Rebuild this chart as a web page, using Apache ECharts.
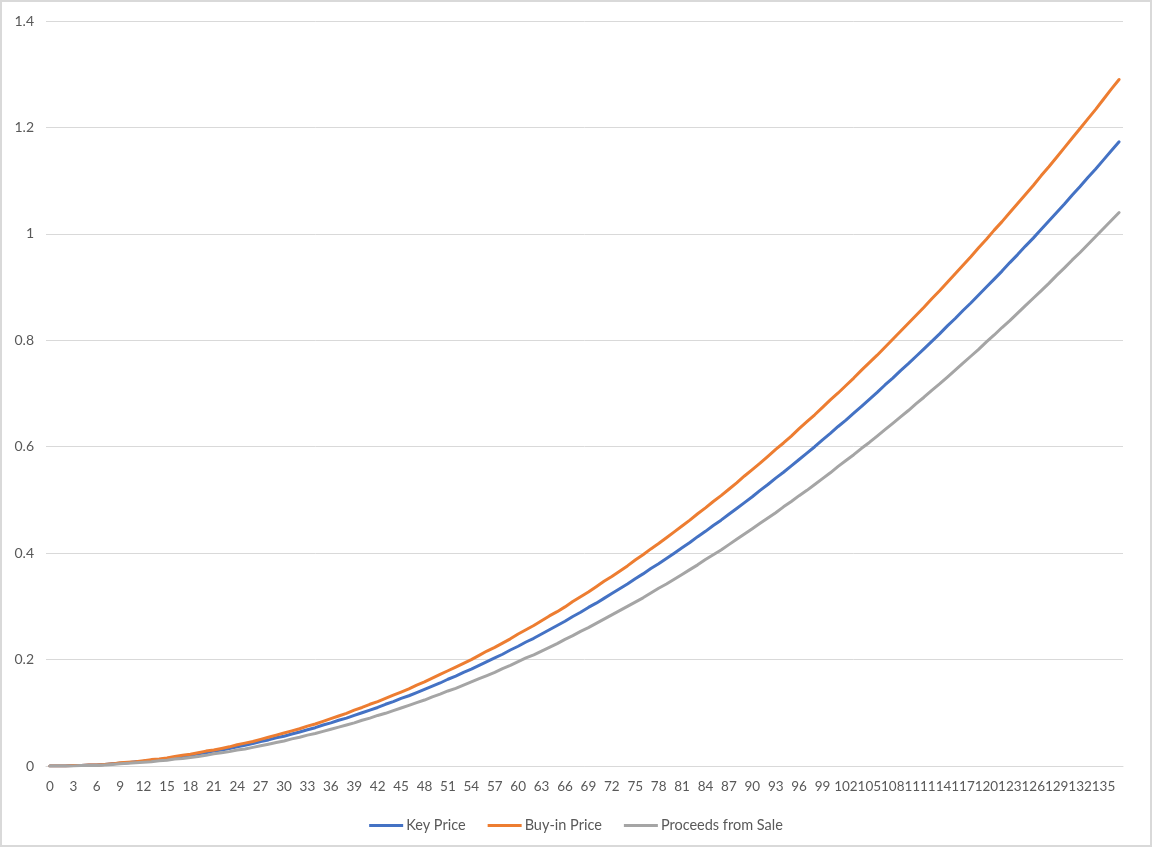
<!DOCTYPE html>
<html>
<head>
<meta charset="utf-8">
<script src="https://cdn.jsdelivr.net/npm/echarts@6/dist/echarts.min.js"></script>
<style>
  html, body { margin: 0; padding: 0; background: #fff; }
  #chart { position: absolute; left: 0; top: 0; width: 1152px; height: 847px; box-sizing: border-box; border: 2px solid #d9d9d9; }
</style>
</head>
<body>
<div id="chart"></div>
<script>
const categories = Array.from({length: 138}, (_, i) => String(i));

const keyPrice = [
0,0,0,0.001,0.001,0.002,0.002,0.003,0.004,0.005,0.006,0.008,0.009,0.011,0.012,0.014,0.016,0.018,0.020,0.023,
0.025,0.028,0.030,0.033,0.036,0.039,0.042,0.046,0.049,0.053,0.056,0.060,0.064,0.068,0.072,0.077,0.081,0.086,0.090,0.095,
0.100,0.105,0.110,0.116,0.121,0.127,0.132,0.138,0.144,0.150,0.156,0.163,0.169,0.176,0.182,0.189,0.196,0.203,0.210,0.218,
0.225,0.233,0.240,0.248,0.256,0.264,0.272,0.281,0.289,0.298,0.306,0.315,0.324,0.333,0.342,0.352,0.361,0.371,0.380,0.390,
0.400,0.410,0.420,0.431,0.441,0.452,0.462,0.473,0.484,0.495,0.506,0.518,0.529,0.541,0.552,0.564,0.576,0.588,0.600,0.613,
0.625,0.638,0.650,0.663,0.676,0.689,0.702,0.716,0.729,0.743,0.756,0.770,0.784,0.798,0.812,0.827,0.841,0.856,0.870,0.885,
0.900,0.915,0.930,0.946,0.961,0.977,0.992,1.008,1.024,1.040,1.056,1.073,1.089,1.106,1.122,1.139,1.156,1.173
];

const buyInPrice = [
0,0,0,0.001,0.001,0.002,0.002,0.003,0.004,0.006,0.007,0.008,0.010,0.012,0.013,0.015,0.018,0.020,0.022,0.025,
0.028,0.030,0.033,0.036,0.040,0.043,0.046,0.050,0.054,0.058,0.062,0.066,0.070,0.075,0.079,0.084,0.089,0.094,0.099,0.105,
0.110,0.116,0.121,0.127,0.133,0.139,0.145,0.152,0.158,0.165,0.172,0.179,0.186,0.193,0.200,0.208,0.216,0.223,0.231,0.239,
0.248,0.256,0.264,0.273,0.282,0.290,0.299,0.309,0.318,0.327,0.337,0.347,0.356,0.366,0.376,0.387,0.397,0.408,0.418,0.429,
0.440,0.451,0.462,0.474,0.485,0.497,0.508,0.520,0.532,0.545,0.557,0.569,0.582,0.595,0.607,0.620,0.634,0.647,0.660,0.674,
0.688,0.701,0.715,0.729,0.744,0.758,0.772,0.787,0.802,0.817,0.832,0.847,0.862,0.878,0.893,0.909,0.925,0.941,0.957,0.974,
0.990,1.007,1.023,1.040,1.057,1.074,1.091,1.109,1.126,1.144,1.162,1.180,1.198,1.216,1.234,1.253,1.272,1.290
];

const proceedsFromSale = [
0,0,0,0,0.001,0.001,0.001,0.002,0.003,0.004,0.005,0.006,0.007,0.008,0.010,0.011,0.013,0.014,0.016,0.018,
0.020,0.023,0.025,0.027,0.030,0.032,0.035,0.038,0.041,0.044,0.047,0.051,0.054,0.058,0.061,0.065,0.069,0.073,0.077,0.081,
0.086,0.090,0.095,0.099,0.104,0.109,0.114,0.119,0.124,0.130,0.135,0.141,0.146,0.152,0.158,0.164,0.170,0.176,0.183,0.189,
0.196,0.203,0.209,0.216,0.223,0.230,0.238,0.245,0.253,0.260,0.268,0.276,0.284,0.292,0.300,0.308,0.316,0.325,0.334,0.342,
0.351,0.360,0.369,0.378,0.388,0.397,0.406,0.416,0.426,0.436,0.446,0.456,0.466,0.476,0.487,0.497,0.508,0.518,0.529,0.540,
0.551,0.563,0.574,0.585,0.597,0.608,0.620,0.632,0.644,0.656,0.668,0.681,0.693,0.706,0.718,0.731,0.744,0.757,0.770,0.783,
0.797,0.810,0.824,0.837,0.851,0.865,0.879,0.893,0.907,0.922,0.936,0.951,0.965,0.980,0.995,1.010,1.025,1.040
];

const seriesNames = ['Key Price', 'Buy-in Price', 'Proceeds from Sale'];
const seriesColors = ['#4472C4', '#ED7D31', '#A5A5A5'];
const seriesData = [keyPrice, buyInPrice, proceedsFromSale];

const FONT = 'Lato, "Open Sans", sans-serif';
const chart = echarts.init(document.getElementById('chart'), null, {renderer: 'canvas'});
chart.setOption({
  animation: false,
  backgroundColor: '#ffffff',
  textStyle: { fontFamily: FONT },
  grid: { left: 44, right: 27, top: 19, bottom: 79, containLabel: false },
  legend: {
    data: seriesNames,
    left: 'center',
    top: 811,
    icon: 'rect',
    itemWidth: 34,
    itemHeight: 3,
    itemGap: 22,
    textStyle: { color: '#595959', fontSize: 14.5, fontFamily: FONT, padding: [0, 0, 0, -2] }
  },
  xAxis: {
    type: 'category',
    data: categories,
    boundaryGap: true,
    axisLine: { show: true, lineStyle: { color: '#d9d9d9', width: 1 } },
    axisTick: { show: false },
    axisLabel: { interval: 2, color: '#595959', fontSize: 13.5, margin: 14, fontFamily: FONT },
    splitLine: { show: false }
  },
  yAxis: {
    type: 'value',
    min: 0,
    max: 1.4,
    interval: 0.2,
    axisLine: { show: false },
    axisTick: { show: false },
    axisLabel: { color: '#595959', fontSize: 14, margin: 12, fontFamily: FONT },
    splitLine: { show: true, lineStyle: { color: '#d9d9d9', width: 1 } }
  },
  series: seriesNames.map((name, i) => ({
    name: name,
    type: 'line',
    data: seriesData[i],
    showSymbol: false,
    symbol: 'none',
    smooth: false,
    lineStyle: { color: seriesColors[i], width: 3, cap: 'round', join: 'round' },
    itemStyle: { color: seriesColors[i] }
  }))
});
</script>
</body>
</html>
